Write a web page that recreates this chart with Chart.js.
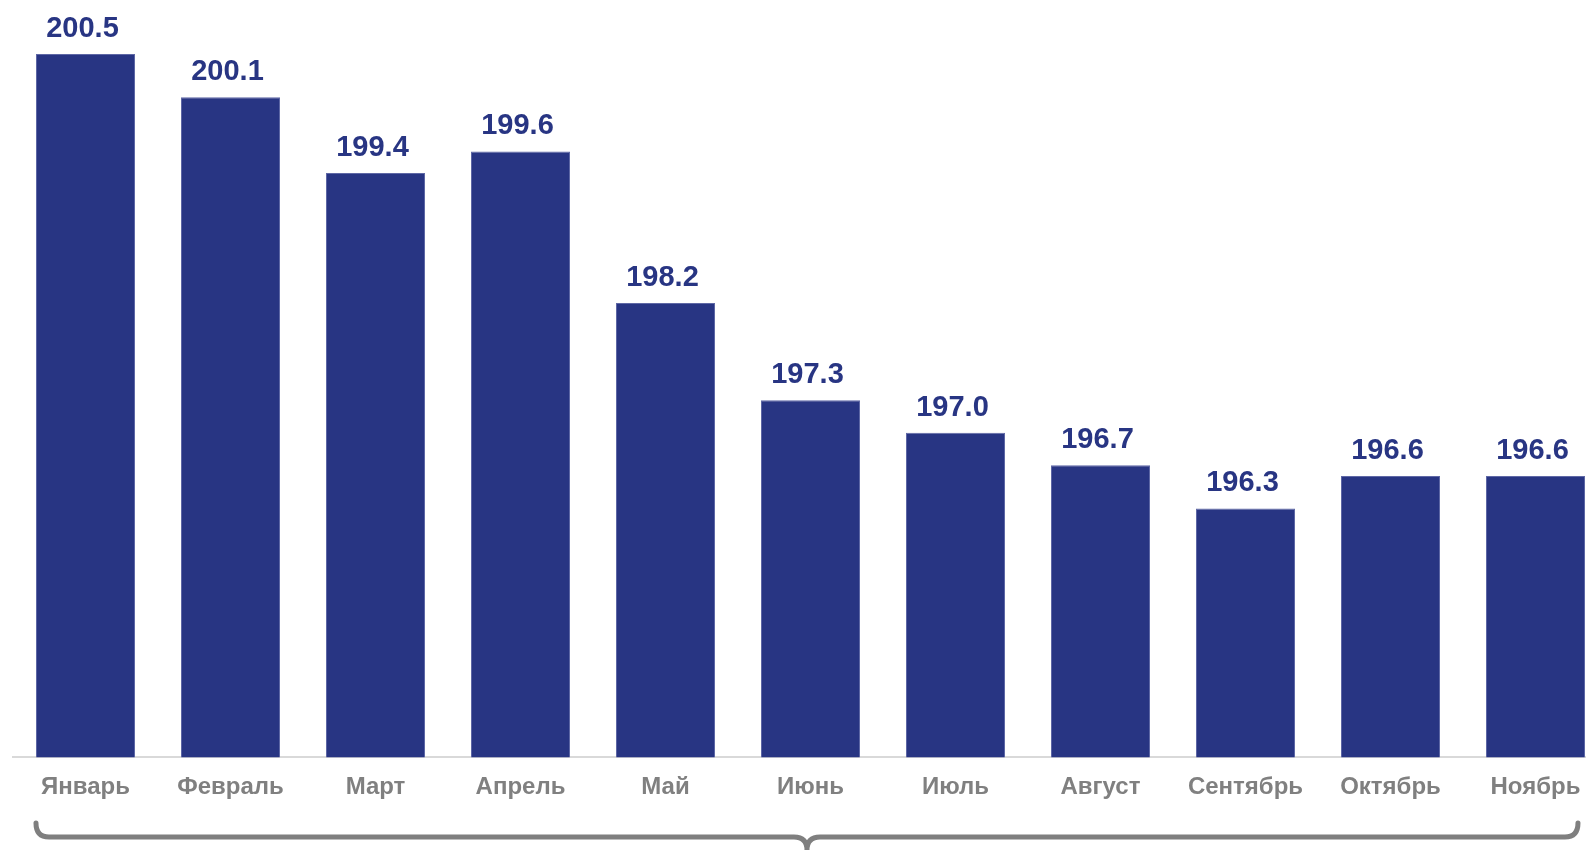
<!DOCTYPE html>
<html lang="ru">
  <head>
    <meta charset="UTF-8" />
    <title>Помесячная динамика</title>
    <script src="https://cdn.jsdelivr.net/npm/chart.js@4.4.1/dist/chart.umd.min.js"></script>
    <style>
      html, body { margin: 0; padding: 0; overflow: hidden; background: #fff; }
      #wrap { width: 1608px; height: 851px; }
    </style>
  </head>
  <body>
    <div id="wrap"><canvas id="myChart" width="1608" height="851"></canvas></div>
    <script>
      const months = ["Январь", "Февраль", "Март", "Апрель", "Май", "Июнь", "Июль", "Август", "Сентябрь", "Октябрь", "Ноябрь"]
      const values = [200.5, 200.1, 199.4, 199.6, 198.2, 197.3, 197.0, 196.7, 196.3, 196.6, 196.6]
      const yMin = 194
      const yMax = 201

      const barColor = "#283583"
      const font = "Arial, 'Liberation Sans', sans-serif"

      // numbers above bars
      const valueLabels = {
        id: "valueLabels",
        afterDatasetsDraw(chart) {
          const ctx = chart.ctx
          const meta = chart.getDatasetMeta(0)
          ctx.save()
          ctx.fillStyle = barColor
          ctx.font = "bold 29px " + font
          ctx.textAlign = "center"
          ctx.textBaseline = "alphabetic"
          meta.data.forEach((bar, i) => {
            ctx.fillText(values[i].toFixed(1), bar.x - 3, bar.y - 17)
          })
          ctx.restore()
        },
      }

      // curly brace under the axis labels
      const brace = {
        id: "brace",
        afterDraw(chart) {
          const ctx = chart.ctx
          const meta = chart.getDatasetMeta(0)
          const first = meta.data[0]
          const left = first.x - first.width / 2
          const right = left + 1542
          const mid = (left + right) / 2
          const y = 837
          const r = 13
          ctx.save()
          ctx.strokeStyle = "#7f7f7f"
          ctx.lineWidth = 5
          ctx.lineCap = "round"
          ctx.beginPath()
          ctx.moveTo(left, y - r - 1)
          ctx.quadraticCurveTo(left, y, left + r, y)
          ctx.lineTo(mid - r, y)
          ctx.quadraticCurveTo(mid, y, mid, y + r)
          ctx.quadraticCurveTo(mid, y, mid + r, y)
          ctx.lineTo(right - r, y)
          ctx.quadraticCurveTo(right, y, right, y - r - 1)
          ctx.stroke()
          ctx.restore()
        },
      }

      const ctx = document.getElementById("myChart").getContext("2d")
      const myChart = new Chart(ctx, {
        type: "bar",
        data: {
          labels: months,
          datasets: [
            {
              data: values,
              backgroundColor: barColor,
              borderColor: "#5f68a6",
              borderWidth: 1,
              barPercentage: 0.683,
              categoryPercentage: 1,
            },
          ],
        },
        options: {
          responsive: false,
          animation: false,
          devicePixelRatio: 1,
          layout: { padding: { left: 13, right: 0, top: 0, bottom: 33 } },
          plugins: {
            legend: { display: false },
            tooltip: { enabled: false },
          },
          scales: {
            x: {
              grid: { display: false, drawTicks: false },
              border: { display: true, color: "#d9d9d9", width: 2 },
              ticks: {
                color: "#808080",
                font: { family: font, size: 24, weight: "bold" },
                padding: 16,
                maxRotation: 0,
                autoSkip: false,
              },
            },
            y: {
              display: false,
              min: yMin,
              max: yMax,
            },
          },
        },
        plugins: [valueLabels, brace],
      })
    </script>
  </body>
</html>
